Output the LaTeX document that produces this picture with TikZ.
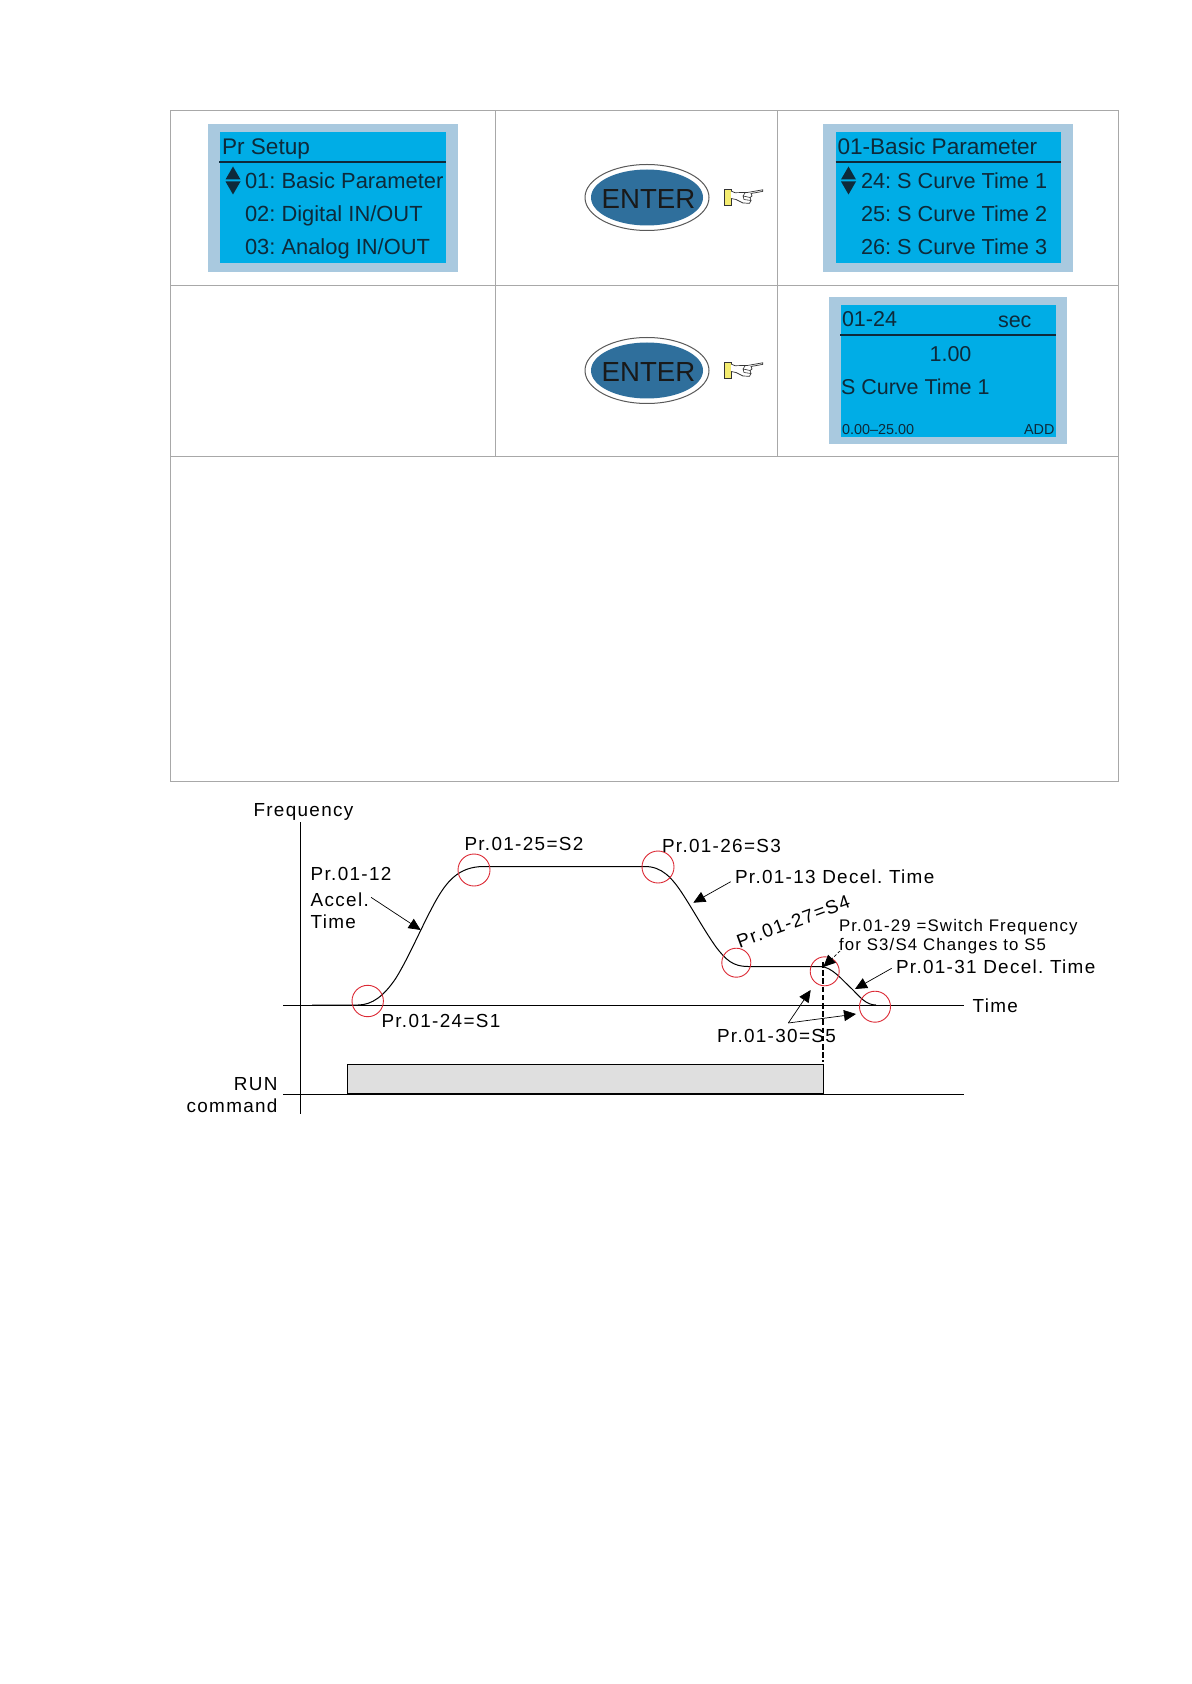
\documentclass[tikz,border=0pt]{standalone}
\usepackage{fontspec}
\setmainfont{Liberation Sans}
\newfontfamily\diagfont[LetterSpace=7]{Liberation Sans}
\usetikzlibrary{arrows.meta}
\definecolor{lcdframe}{HTML}{A9C9DF}
\definecolor{lcdblue}{HTML}{00ADE6}
\definecolor{lcdtext}{HTML}{0E2A3A}
\definecolor{keyblue}{HTML}{2F6F9C}
\definecolor{rulegray}{HTML}{A8A8A8}
\definecolor{ringred}{HTML}{DC2A35}
\definecolor{handyellow}{HTML}{F4EC70}
\tikzset{
 x=0.5pt,y=-0.5pt,
 cell/.style={draw=rulegray,line width=0.5pt},
 lcdouter/.style={fill=lcdframe,draw=none},
 lcdinner/.style={fill=lcdblue,draw=none},
 lcdrule/.style={draw=lcdtext,line width=0.75pt},
 lcdt/.style={anchor=base west,inner sep=0pt,outer sep=0pt,text=lcdtext,font=\fontsize{10.95}{13}\selectfont\frenchspacing},
 lcdu/.style={lcdt,font=\fontsize{10.85}{13}\selectfont\frenchspacing},
 lcdv/.style={lcdt,font=\fontsize{10.75}{13}\selectfont\frenchspacing},
 lcdh/.style={lcdt,font=\fontsize{11.3}{13}\selectfont\frenchspacing},
 lcds/.style={anchor=base west,inner sep=0pt,outer sep=0pt,text=lcdtext,font=\fontsize{7.2}{9}\selectfont},
 tri/.style={fill=lcdtext,draw=none},
 keyouter/.style={draw=black!65,fill=white,line width=0.5pt},
 keyinner/.style={draw=none,fill=keyblue},
 keytext/.style={inner sep=0pt,text=black!90,font=\fontsize{13.8}{15}\selectfont},
 lab/.style={anchor=base west,inner sep=0pt,outer sep=0pt,font=\fontsize{9.45}{11}\diagfont\frenchspacing},
 labs/.style={anchor=base west,inner sep=0pt,outer sep=0pt,font=\fontsize{8.4}{10}\diagfont\frenchspacing},
 labr/.style={anchor=base east,inner sep=0pt,outer sep=0pt,font=\fontsize{9.45}{11}\diagfont},
 axisline/.style={draw=black,line width=0.45pt},
 ring/.style={draw=ringred,line width=0.45pt},
 curveline/.style={draw=black,line width=0.5pt},
 pointer/.style={draw=black,line width=0.35pt,-{Triangle[length=6pt,width=5.5pt]}},
}
\newcommand{\handicon}[2]{%
 \begin{scope}[shift={(#1,#2)}]
  \fill[handyellow,draw=black!80,line width=0.35pt] (0,0) rectangle (7,16.5);
  \draw[fill=white,draw=black!80,line width=0.35pt] (7,2) -- (11,3.7) -- (24,3.4) -- (38.7,0.8) -- (38.7,2.4) -- (27,4.5) -- (28,7) -- (26,8.5) -- (27,11.5) -- (25.5,14.3) -- (19,14) -- (12,10.5) -- (7,9.5);
  \draw[draw=black!80,line width=0.3pt] (19,7) -- (26,8.5) (20,10.5) -- (27,11.5) (21,4) -- (19,7) -- (20,10.5);
 \end{scope}}
\begin{document}
\begin{tikzpicture}
\useasboundingbox (0,0) rectangle (1191,1684);
\fill[white] (0,0) rectangle (1191,1684);
% table
\draw[cell] (170,110.5) rectangle (1118,781);
\draw[cell] (170,285.5) -- (1118,285.5) (170,456.5) -- (1118,456.5);
\draw[cell] (495,110.5) -- (495,456.5) (777.5,110.5) -- (777.5,456.5);
% LCD 1
\fill[lcdouter] (207.5,124) rectangle (458,272);
\fill[lcdinner] (220,132.5) rectangle (445.5,263.5);
\draw[lcdrule] (219,162) -- (445.5,162);
\node[lcdh] (a0) at (222,155) {Pr Setup};
\node[lcdt] (a1) at (245,188.7) {01: Basic Parameter};
\node[lcdt] (a2) at (245,222) {02: Digital IN/OUT};
\node[lcdt] (a3) at (245,254.5) {03: Analog IN/OUT};
\fill[tri] (233,166.5) -- (240.5,179.5) -- (225.5,179.5) -- cycle;
\fill[tri] (233,194.5) -- (240.5,181.5) -- (225.5,181.5) -- cycle;
% LCD 2
\fill[lcdouter] (823,124) rectangle (1073,272);
\fill[lcdinner] (835.5,132.5) rectangle (1061,263.5);
\draw[lcdrule] (835.5,162) -- (1061,162);
\node[lcdh] (b0) at (837.5,155) {01-Basic Parameter};
\node[lcdu] (b1) at (861,188.7) {24: S Curve Time 1};
\node[lcdu] (b2) at (861,222) {25: S Curve Time 2};
\node[lcdu] (b3) at (861,254.5) {26: S Curve Time 3};
\fill[tri] (848.5,166.5) -- (856,179.5) -- (841,179.5) -- cycle;
\fill[tri] (848.5,194.5) -- (856,181.5) -- (841,181.5) -- cycle;
% LCD 3
\fill[lcdouter] (829,297.5) rectangle (1067,444.5);
\fill[lcdinner] (841,305) rectangle (1055.5,437);
\draw[lcdrule] (840,335) -- (1056,335);
\node[lcdv] (c0) at (842,326.7) {01-24};
\node[lcdv] (c1) at (998,328) {sec};
\node[lcdv,anchor=base] (c2) at (950.5,361.7) {1.00};
\node[lcdv] (c3) at (841,394.5) {S Curve Time 1};
\node[lcds] (c4) at (842,435) {0.00--25.00};
\node[lcds,anchor=base east] (c5) at (1054.5,435) {ADD};
% ENTER keys
\draw[keyouter] (647,197.5) ellipse [x radius=62,y radius=33];
\fill[keyinner] (647,197.5) ellipse [x radius=56,y radius=28];
\node[keytext] (k1) at (648.5,199) {ENTER};
\draw[keyouter] (647,370.5) ellipse [x radius=62,y radius=33];
\fill[keyinner] (647,370.5) ellipse [x radius=56,y radius=28];
\node[keytext] (k2) at (648.5,372) {ENTER};
\handicon{724}{189}
\handicon{724}{362}
% chart axes
\fill[black!12.5] (347.5,1064.5) rectangle (823.5,1094);
\draw[axisline] (347.5,1094) -- (347.5,1064.5) -- (823.5,1064.5) -- (823.5,1094);
\draw[axisline] (300.5,822) -- (300.5,1114);
\draw[axisline] (283,1005.5) -- (964,1005.5);
\draw[axisline] (283,1094) -- (964,1094);
\draw[black,line width=0.9pt] (347.5,1093.6) -- (823.5,1093.6);
% curve
\draw[curveline] (312,1005) -- (358,1005)
 .. controls (372,1005) and (384,996) .. (396,978)
 .. controls (410,955) and (420,930) .. (434,904)
 .. controls (446,882) and (458,866.5) .. (484,866.5)
 -- (645,866.5)
 .. controls (662,866.5) and (672,878) .. (682,893)
 .. controls (695,913) and (704,930) .. (716,947)
 .. controls (726,960) and (733,966.5) .. (748,966.5)
 -- (820,966.5)
 .. controls (832,966.5) and (842,980) .. (852,989)
 .. controls (860,997) and (866,1005) .. (876,1005);
% rings
\draw[ring] (367.7,1001) circle [radius=15.7];
\draw[ring] (474,870) circle [radius=16];
\draw[ring] (658,867) circle [radius=16];
\draw[ring] (736.3,962.7) circle [radius=14.5];
\draw[ring] (824.7,971.3) circle [radius=14.5];
\draw[ring] (875,1006.7) circle [radius=15.5];
% labels
\node[lab] (freq) at (253.5,816) {Frequency};
\node[lab] (s2) at (464.5,850) {Pr.01-25=S2};
\node[lab] (acc1) at (310.7,880.7) {Pr.01-12};
\node[lab] (acc2) at (310.7,906.7) {Accel.};
\node[lab] (acc3) at (310.7,928.3) {Time};
\node[lab] (s1) at (381.5,1027.3) {Pr.01-24=S1};
\node[labr] (run) at (277.5,1090.7) {RUN};
\node[labr] (cmd) at (277.5,1112) {command};
\node[lab] (s3) at (662,852.3) {Pr.01-26=S3};
\node[lab] (dec13) at (735,883.3) {Pr.01-13 Decel. Time};
\node[lab,rotate=20] (s4) at (739.5,948) {Pr.01-27=S4};
\node[labs] (sw1) at (839,931) {Pr.01-29 =Switch Frequency};
\node[labs] (sw2) at (839,950) {for S3/S4 Changes to S5};
\node[lab] (dec31) at (896,973.3) {Pr.01-31 Decel. Time};
\node[lab] (timel) at (972.7,1012.5) {Time};
\node[lab] (s5) at (717,1042.5) {Pr.01-30=S5};
% pointers
\coordinate (p1a) at (371,897.3); \coordinate (p1b) at (420.7,930);
\coordinate (p2a) at (730.7,881.7); \coordinate (p2b) at (693.3,902.7);
\coordinate (p3a) at (891.7,968.3); \coordinate (p3b) at (855,989);
\coordinate (v) at (788.3,1023); \coordinate (v1) at (810.7,990); \coordinate (v2) at (856,1014);
\coordinate (p4a) at (840,951); \coordinate (p4b) at (823.3,967);
\draw[pointer] (p1a) -- (p1b);
\draw[pointer] (p2a) -- (p2b);
\draw[pointer] (p3a) -- (p3b);
\draw[pointer] (v) -- (v1);
\draw[pointer] (v) -- (v2);
\draw[pointer,dash pattern=on 1.5pt off 1pt] (p4a) -- (p4b);
\coordinate (d1) at (823,962); \coordinate (d2) at (823,1062);
\draw[black,line width=1pt,dash pattern=on 2.8pt off 1.3pt] (d1) -- (d2);
\end{tikzpicture}
\end{document}
